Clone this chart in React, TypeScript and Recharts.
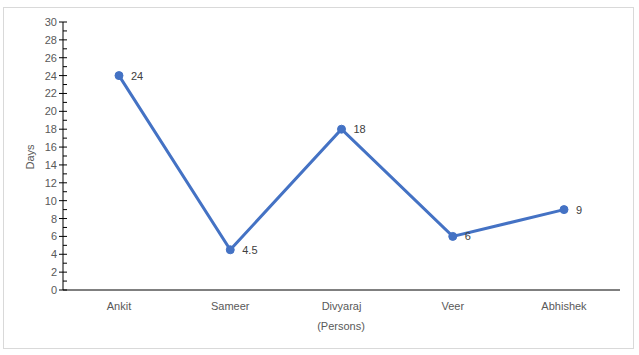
import { LineChart, Line, XAxis, YAxis, LabelList } from "recharts";

const persons = ["Ankit", "Sameer", "Divyaraj", "Veer", "Abhishek"];
const days = [24, 4.5, 18, 6, 9];
const yTicks = [
  0, 1, 2, 3, 4, 5, 6, 7, 8, 9, 10, 11, 12, 13, 14, 15, 16, 17, 18, 19, 20, 21, 22, 23, 24, 25, 26, 27, 28, 29, 30,
];

const data = persons.map((name, i) => ({ name, days: days[i] }));

const FONT = "'Liberation Sans', Arial, sans-serif";
const TEXT = "#595959";

// tick x arrives as axisX - tickSize - tickMargin
function YTick(props: any) {
  const { x, y, payload } = props;
  const axisX = x + 6;
  const major = payload.value % 2 === 0;
  return (
    <g>
      <line
        x1={major ? axisX - 4 : axisX}
        x2={axisX + 4}
        y1={y}
        y2={y}
        stroke="#000"
        strokeWidth={1}
      />
      {major && (
        <text x={axisX - 6} y={y} dy={4} textAnchor="end" fontSize={11} fill={TEXT} fontFamily={FONT}>
          {payload.value}
        </text>
      )}
    </g>
  );
}

export default function App() {
  return (
    <div style={{ position: "absolute", left: 0, top: 0, width: 639, height: 355, background: "#fff" }}>
      <div
        style={{
          position: "absolute",
          left: 3,
          top: 7,
          width: 629,
          height: 340,
          border: "1px solid #d9d9d9",
          pointerEvents: "none",
        }}
      />
      <LineChart width={639} height={355} data={data} margin={{ top: 22, right: 19, bottom: 35, left: 0 }}>
        <XAxis
          dataKey="name"
          height={30}
          padding={{ left: 56, right: 56 }}
          axisLine={{ stroke: "#000", strokeWidth: 1 }}
          tickLine={false}
          tick={{ fontSize: 11, fill: TEXT, fontFamily: FONT }}
          tickMargin={6}
          interval={0}
        />
        <YAxis
          width={63}
          domain={[0, 30]}
          ticks={yTicks}
          interval={0}
          tickSize={4}
          tickMargin={2}
          tickLine={false}
          axisLine={{ stroke: "#000", strokeWidth: 1 }}
          tick={<YTick />}
        />
        <Line
          type="linear"
          dataKey="days"
          stroke="#4472C4"
          strokeWidth={3}
          dot={{ r: 4, fill: "#4472C4", stroke: "#4472C4", strokeWidth: 1 }}
          isAnimationActive={false}
        >
          <LabelList dataKey="days" position="right" offset={12} fontSize={11} fill="#404040" fontFamily={FONT} />
        </Line>
        <text x={30} y={157} transform="rotate(-90 30 157)" textAnchor="middle" dy={4} fontSize={11} fill={TEXT} fontFamily={FONT}>
          Days
        </text>
        <text x={341} y={330} textAnchor="middle" fontSize={11} fill={TEXT} fontFamily={FONT}>
          (Persons)
        </text>
      </LineChart>
    </div>
  );
}
